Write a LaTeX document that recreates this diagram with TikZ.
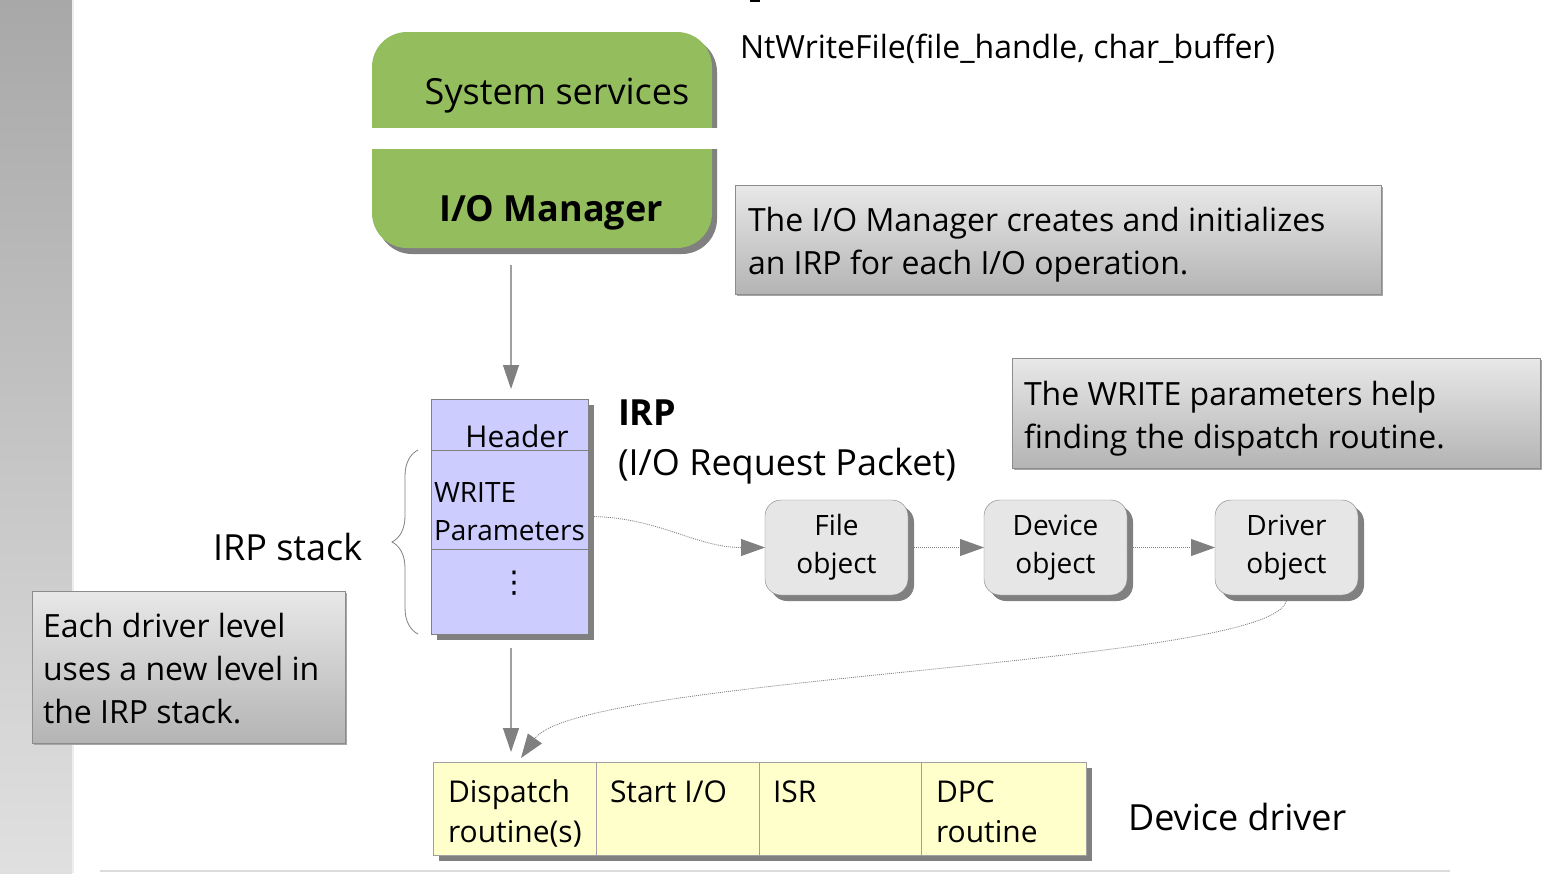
\documentclass[tikz,border=0pt]{standalone}
\usepackage{fontspec}
\setmainfont{Open Sans}
\newfontfamily\djv{DejaVu Sans}
\usetikzlibrary{arrows.meta,shadows,decorations.pathreplacing}
\definecolor{grn}{HTML}{94BD5E}
\definecolor{shd}{HTML}{808080}
\definecolor{irpfill}{HTML}{CCCCFF}
\definecolor{objfill}{HTML}{E6E6E6}
\definecolor{drvfill}{HTML}{FFFFCC}
\definecolor{linegray}{HTML}{A0A0A0}
\definecolor{tipgray}{HTML}{808080}
\definecolor{cbord}{HTML}{8C8C8C}
\definecolor{ctop}{HTML}{E8E8E8}
\definecolor{cbot}{HTML}{B4B4B4}
\definecolor{bartop}{HTML}{A8A8A8}
\definecolor{barbot}{HTML}{E0E0E0}
\begin{document}
\begin{tikzpicture}[x=1pt,y=-1pt,
  every node/.style={inner sep=0pt,outer sep=0pt},
  fbig/.style={font=\fontsize{36}{42}\selectfont},
  fmid/.style={font=\fontsize{32}{43}\selectfont},
  fsml/.style={font=\fontsize{28}{38}\selectfont},
  fcell/.style={font=\fontsize{30}{40}\selectfont},
  lbl/.style={anchor=base west},
  callbox/.style={draw=cbord,top color=ctop,bottom color=cbot,anchor=north west,
     drop shadow={shadow xshift=2pt,shadow yshift=-2pt,fill=black!35,opacity=1}},
  objbox/.style={draw=shd,fill=objfill,rounded corners=16pt,minimum width=143pt,minimum height=95pt,
     align=center,fsml,drop shadow={shadow xshift=6pt,shadow yshift=-6pt,fill=shd,opacity=1}},
  cell/.style={draw=linegray,fill=drvfill,anchor=north west,minimum height=93pt},
  solidarrow/.style={draw=linegray,line width=1.3pt,-{Triangle[length=24pt,width=16pt,color=tipgray,fill=tipgray]}},
  dotarrow/.style={draw=shd,line width=0.8pt,dash pattern=on 1pt off 1pt,-{Triangle[length=24pt,width=17pt,color=tipgray,fill=tipgray]}},
  sepline/.style={draw=shd,line width=0.8pt}
]
\useasboundingbox (0,0) rectangle (1549,873);
\fill[white] (0,0) rectangle (1549,873);
% left bar
\shade[top color=bartop,bottom color=barbot] (0,0) rectangle (72,873);
\fill[white!93!black] (72,0) rectangle (74,873);
% bottom rule
\draw[draw=black!14,line width=2pt] (100,871) -- (1450,871);
% clipped title mark
\fill[black] (750,0) rectangle (760,2);

% System services box
\begin{scope}
  \clip (300,0) rectangle (800,127);
  \fill[shd,rounded corners=35pt] (377,37) rectangle (717,220);
  \fill[grn,rounded corners=35pt] (372,32) rectangle (712,220);
\end{scope}
\node[fbig,anchor=base] (ss) at (557,104) {System services};
% I/O Manager box
\begin{scope}
  \clip (300,149) rectangle (800,300);
  \fill[shd,rounded corners=35pt] (377,60) rectangle (717,254);
  \fill[grn,rounded corners=35pt] (372,60) rectangle (712,248);
\end{scope}
\node[font=\fontsize{36}{42}\selectfont\bfseries,anchor=base] (iom) at (551,221) {I/O Manager};

\node[fmid,lbl] (ntw) at (740,58) {NtWriteFile(file\_handle, char\_buffer)};

% callout 1
\node[callbox,minimum width=646pt,minimum height=109pt] (c1) at (735,185) {};
\node[fmid,lbl,align=left] (c1t) at (748,274) {The I/O Manager creates and initializes\\an IRP for each I/O operation.};

% callout 2
\node[callbox,minimum width=528pt,minimum height=110pt] (c2) at (1012,358) {};
\node[fmid,lbl,align=left] (c2t) at (1024,448) {The WRITE parameters help\\finding the dispatch routine.};

% callout 3
\node[callbox,minimum width=313pt,minimum height=152pt] (c3) at (32,591) {};
\node[fmid,lbl,align=left] (c3t) at (43,723) {Each driver level\\uses a new level in\\the IRP stack.};

% IRP box
\node[draw=shd,fill=irpfill,anchor=north west,minimum width=157pt,minimum height=235pt,
  drop shadow={shadow xshift=6pt,shadow yshift=-6pt,fill=shd,opacity=1}] (irp) at (431,399) {};
\draw[sepline] (431,450) -- (588,450);
\draw[sepline] (431,549) -- (588,549);
\node[font=\fontsize{30}{38}\selectfont,anchor=base] (hdr) at (517,447) {Header};
\node[fsml,lbl,align=left] (wp) at (434,540) {WRITE\\Parameters};
\node[font=\fontsize{30}{38}\djv,anchor=base] (dots) at (514,592) {⋮};

% brace
\draw[draw=shd,line width=0.8pt,decorate,decoration={brace,amplitude=26pt}] (418,634) -- (418,450);
\node[fbig,lbl] (irps) at (213,560) {IRP stack};

\node[font=\fontsize{36}{42}\selectfont\bfseries,lbl] (irpt) at (618,425) {IRP};
\node[fbig,lbl] (irpl) at (618,475) {(I/O Request Packet)};

% objects
\node[objbox] (fo) at (836.5,547.5) {File\\object};
\node[objbox] (do) at (1055.5,547.5) {Device\\object};
\node[objbox] (dro) at (1286.5,547.5) {Driver\\object};

% driver row
\fill[shd] (439,768) rectangle (1092,861);
\node[cell,minimum width=163pt] (disp) at (433,762) {};
\node[cell,minimum width=163pt] (sio) at (596,762) {};
\node[cell,minimum width=162pt] (isr) at (759,762) {};
\node[cell,minimum width=165pt] (dpc) at (921,762) {};
\node[fcell,lbl,align=left] (dispt) at (448,842) {Dispatch\\routine(s)};
\node[fcell,lbl] (siot) at (610,802) {Start I/O};
\node[fcell,lbl] (isrt) at (773,802) {ISR};
\node[fcell,lbl,align=left] (dpct) at (936,842) {DPC\\routine};
\node[fbig,lbl] (dd) at (1128,830) {Device driver};

% connectors
\coordinate (a1s) at (511,265);
\coordinate (a1e) at (511,389);
\draw[solidarrow] (a1s) -- (a1e);
\coordinate (a2s) at (511,648);
\coordinate (a2e) at (511,752);
\draw[solidarrow] (a2s) -- (a2e);
\draw[dotarrow] (irp.east) to[out=0,in=180] (fo.west);
\draw[dotarrow] (fo.east) -- (do.west);
\draw[dotarrow] (do.east) -- (dro.west);
\coordinate (a3e) at (521,758);
\draw[dotarrow] ([yshift=-4pt]dro.south) .. controls (1286,665) and (580,675) .. (a3e);
\end{tikzpicture}
\end{document}
